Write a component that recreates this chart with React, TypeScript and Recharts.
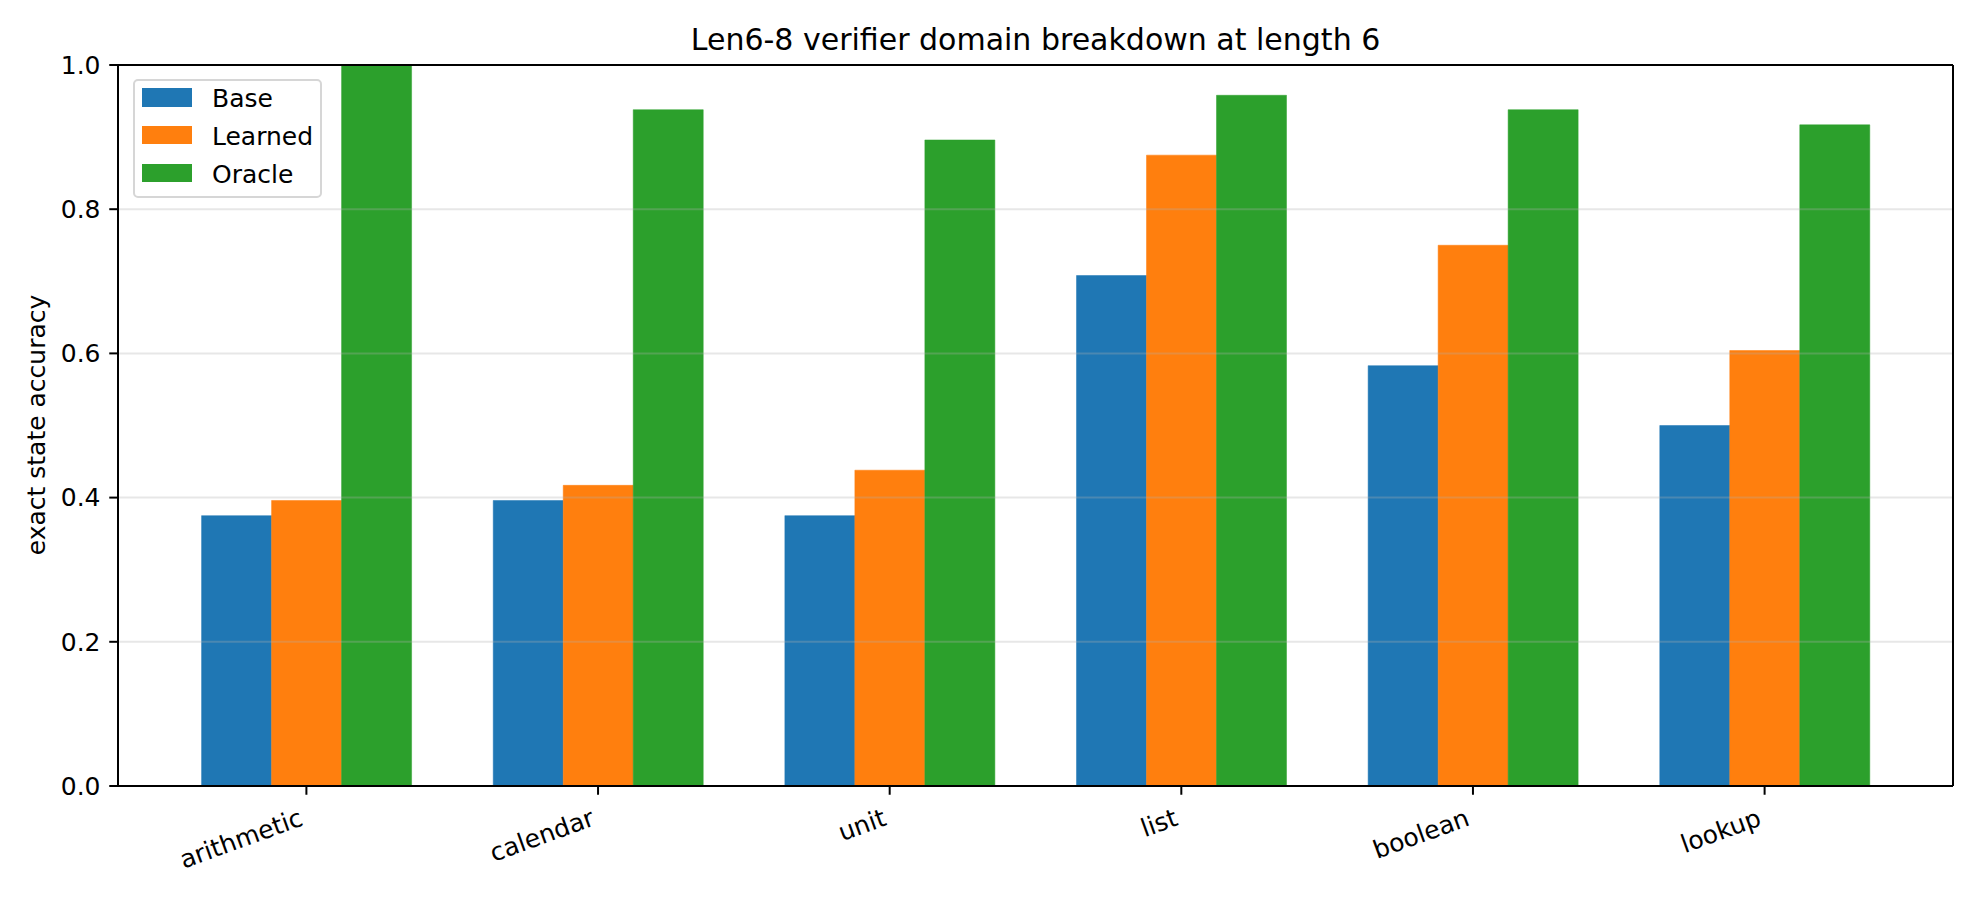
import { Bar, BarChart, Legend, ReferenceLine, XAxis, YAxis } from 'recharts';

const domains = ['arithmetic', 'calendar', 'unit', 'list', 'boolean', 'lookup'];
const baseAcc = [0.375, 0.396, 0.375, 0.708, 0.583, 0.5];
const learnedAcc = [0.396, 0.417, 0.438, 0.875, 0.75, 0.604];
const oracleAcc = [1.0, 0.938, 0.896, 0.958, 0.938, 0.917];
const yTicks = [0, 0.2, 0.4, 0.6, 0.8, 1.0];
const gridTicks = [0.2, 0.4, 0.6, 0.8];

const series = [
  { key: 'base', name: 'Base', color: '#1f77b4' },
  { key: 'learned', name: 'Learned', color: '#ff7f0e' },
  { key: 'oracle', name: 'Oracle', color: '#2ca02c' },
];

const data = domains.map((d, i) => ({
  idx: i,
  domain: d,
  base: baseAcc[i],
  learned: learnedAcc[i],
  oracle: oracleAcc[i],
}));

// matplotlib-style x limits: bar width 0.24 per series, 5% margins
const barFrac = 0.24;
const xPad = 1.5 * barFrac + 0.05 * (domains.length - 1 + 3 * barFrac);
const xDomain = [-xPad, domains.length - 1 + xPad];
const xTicks = domains.map((_, i) => i);

const FONT = '"DejaVu Sans", sans-serif';
const FS = 25;
const axisLine = { stroke: '#000', strokeWidth: 2 };

function DomainTick({ x, y, payload }: any) {
  const tx = x - 2;
  const ty = y + 30;
  return (
    <text x={tx} y={ty} textAnchor="end" transform={`rotate(-20, ${tx}, ${ty})`} fontSize={FS} fill="#000" fontFamily={FONT}>
      {domains[payload.value]}
    </text>
  );
}

function LegendBox({ payload }: any) {
  return (
    <div
      style={{
        width: 189,
        height: 119,
        boxSizing: 'border-box',
        border: '2px solid #d6d6d6',
        borderRadius: 5,
        background: 'rgba(255,255,255,0.8)',
        padding: '7.3px 0 0 7px',
        fontFamily: FONT,
      }}
    >
      {(payload || []).map((item: any) => (
        <div key={item.value} style={{ position: 'relative', height: 37.8 }}>
          <span style={{ position: 'absolute', left: 0, top: 0, width: 50, height: 18.4, background: item.color }} />
          <span style={{ position: 'absolute', left: 70, top: -2, fontSize: FS, lineHeight: '25px', color: '#000', whiteSpace: 'nowrap' }}>
            {item.value}
          </span>
        </div>
      ))}
    </div>
  );
}

export default function App() {
  return (
    <div style={{ position: 'absolute', top: 0, left: 0, width: 1980, height: 900, background: '#fff', fontFamily: FONT }}>
      <div
        style={{
          position: 'absolute',
          left: 118,
          width: 1835,
          top: 24.6,
          textAlign: 'center',
          fontSize: 30,
          lineHeight: '30px',
          color: '#000',
          whiteSpace: 'nowrap',
        }}
      >
        Len6-8 verifier domain breakdown at length 6
      </div>
      <div
        style={{
          position: 'absolute',
          left: 36,
          top: 425,
          transform: 'translate(-50%, -50%) rotate(-90deg)',
          fontSize: FS,
          lineHeight: '25px',
          whiteSpace: 'nowrap',
          color: '#000',
        }}
      >
        exact state accuracy
      </div>
      <BarChart width={1980} height={900} data={data} margin={{ top: 64, right: 26, bottom: 0, left: 0 }} barGap={0}>
        <XAxis
          dataKey="idx"
          type="number"
          domain={xDomain}
          ticks={xTicks}
          interval={0}
          height={114}
          tickSize={8.75}
          tickMargin={0}
          tickLine={axisLine}
          axisLine={axisLine}
          tick={<DomainTick />}
        />
        <XAxis
          xAxisId="top"
          orientation="top"
          dataKey="idx"
          type="number"
          domain={xDomain}
          height={1}
          tick={false}
          tickLine={false}
          axisLine={axisLine}
        />
        <YAxis
          type="number"
          domain={[0, 1]}
          ticks={yTicks}
          width={118}
          tickSize={8.75}
          tickMargin={8.75}
          tickLine={axisLine}
          axisLine={axisLine}
          tick={{ fontSize: FS, fill: '#000', fontFamily: FONT }}
          tickFormatter={(v: number) => v.toFixed(1)}
        />
        <YAxis yAxisId="right" orientation="right" type="number" domain={[0, 1]} width={1} tick={false} tickLine={false} axisLine={axisLine} />
        <Legend
          layout="horizontal"
          verticalAlign="middle"
          align="center"
          content={<LegendBox />}
          wrapperStyle={{ left: 133, top: 79, width: 189, height: 119 }}
        />
        {series.map((s) => (
          <Bar
            key={s.key}
            dataKey={s.key}
            name={s.name}
            fill={s.color}
            stroke={s.color}
            strokeWidth={0.5}
            barSize={70}
            isAnimationActive={false}
          />
        ))}
        {gridTicks.map((t) => (
          <ReferenceLine key={t} y={t} stroke="#b0b0b0" strokeOpacity={0.3} strokeWidth={2} />
        ))}
      </BarChart>
    </div>
  );
}
